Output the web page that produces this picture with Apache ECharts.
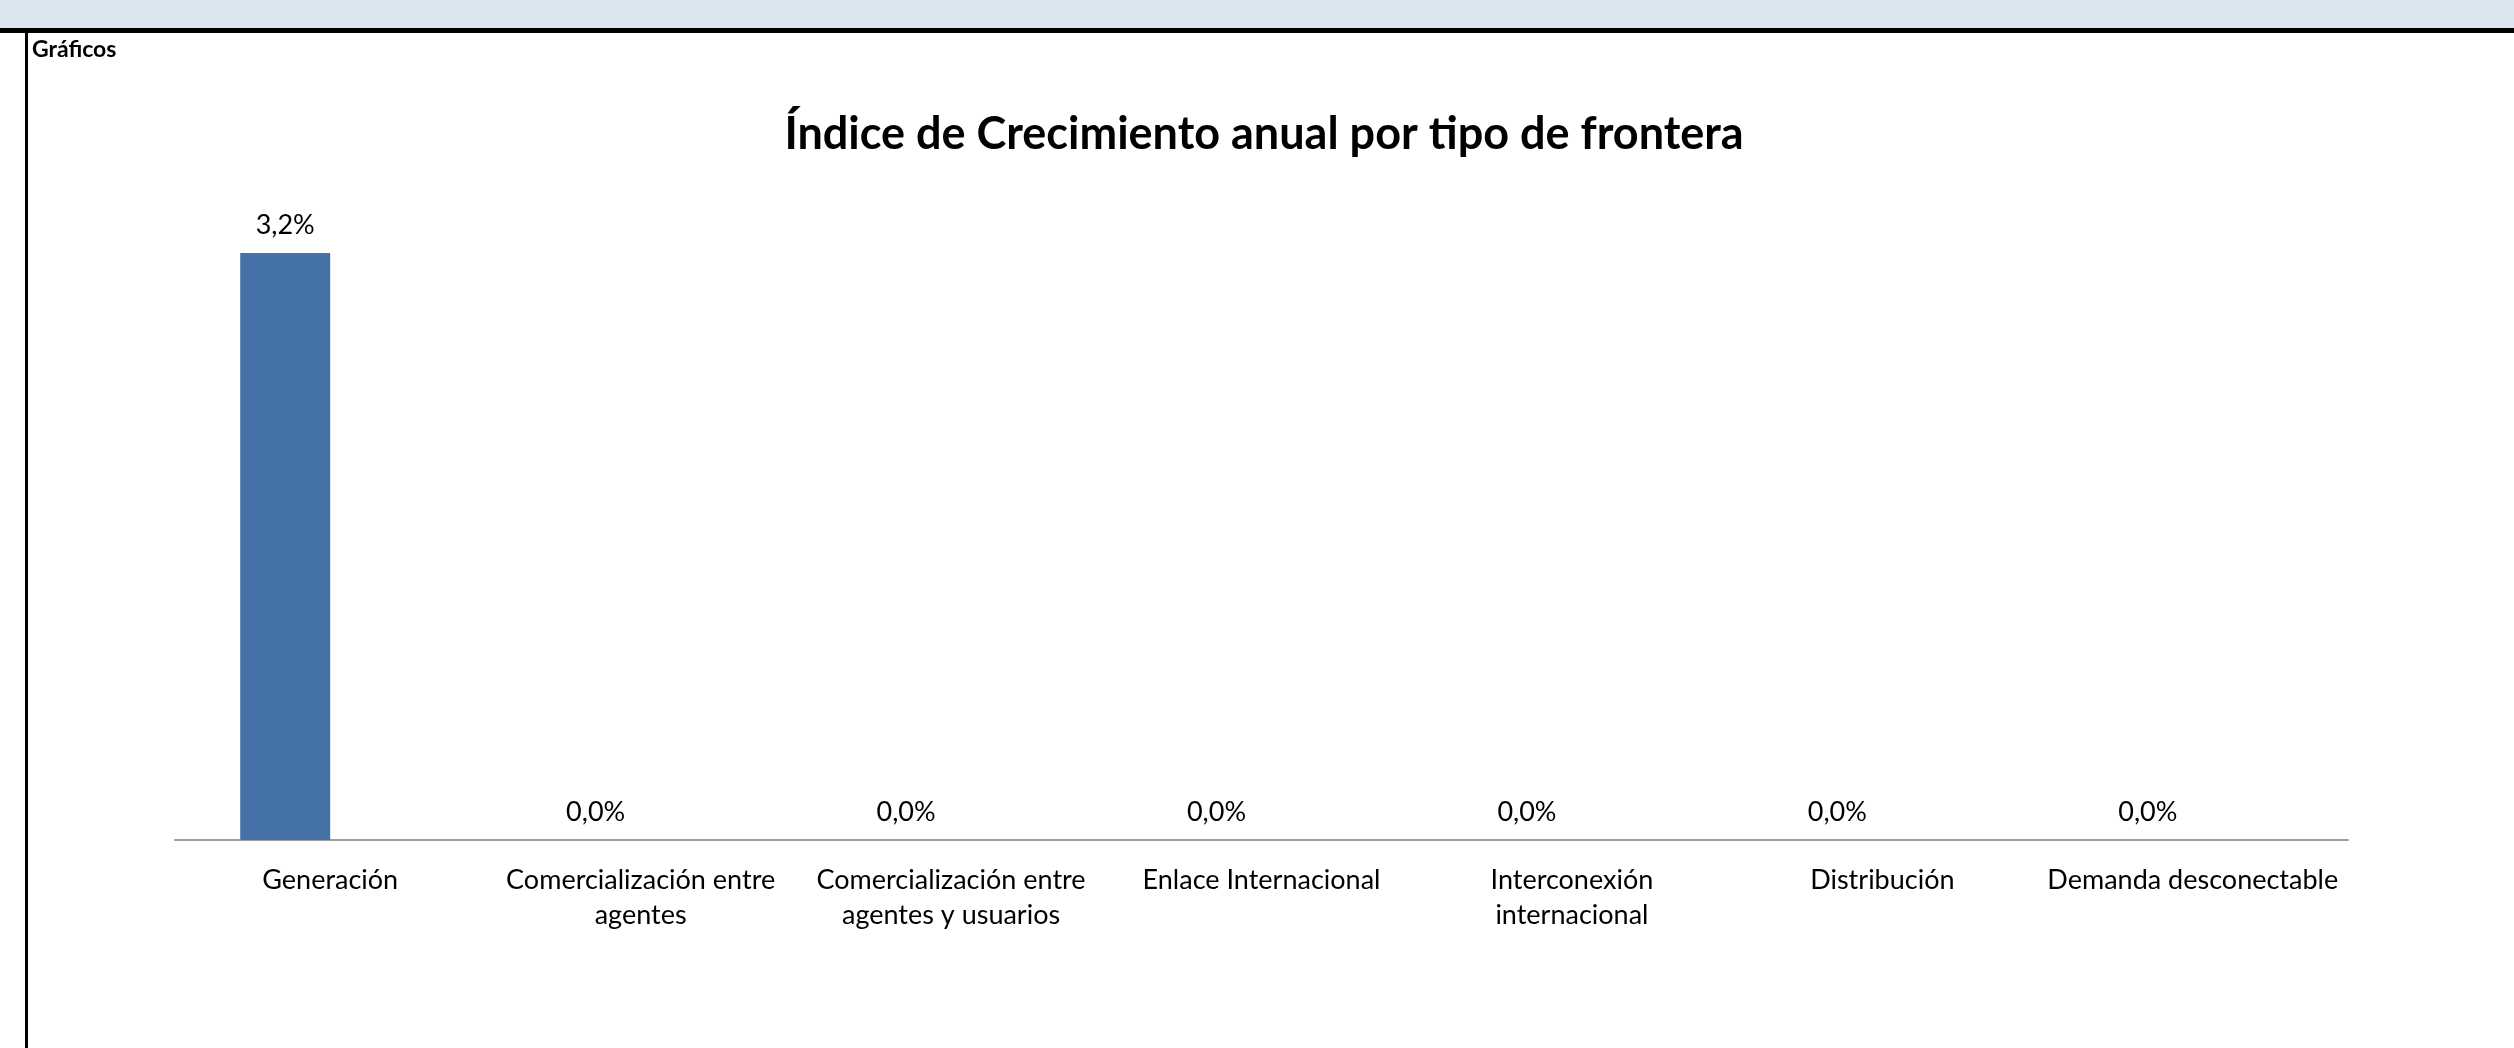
<!DOCTYPE html>
<html>
<head>
<meta charset="utf-8">
<script src="https://cdn.jsdelivr.net/npm/echarts@6/dist/echarts.min.js"></script>
<style>
  html, body { margin: 0; padding: 0; background: #ffffff; }
  #chart { width: 2514px; height: 1048px; }
</style>
</head>
<body>
<div id="chart"></div>
<script>
// ---- Data ----
const chartTitle = 'Índice de Crecimiento anual por tipo de frontera';
const sheetLabel = 'Gráficos';
const categories = [
  'Generación',
  'Comercialización entre agentes',
  'Comercialización entre agentes y usuarios',
  'Enlace Internacional',
  'Interconexión internacional',
  'Distribución',
  'Demanda desconectable'
];
const growthValues = [3.2, 0.0, 0.0, 0.0, 0.0, 0.0, 0.0];   // percent
const emptySeriesValues = [null, null, null, null, null, null, null]; // second (empty) series in the cluster

// ---- Helpers ----
function wrapLabel(text, maxChars) {
  const words = text.split(' ');
  const lines = [];
  let cur = '';
  words.forEach(w => {
    const cand = cur ? cur + ' ' + w : w;
    if (cand.length > maxChars && cur) { lines.push(cur); cur = w; }
    else cur = cand;
  });
  if (cur) lines.push(cur);
  return lines.join('\n');
}
function pct(v) { return v.toFixed(1).replace('.', ',') + '%'; }

const FONT = 'Lato, "Noto Sans", sans-serif';
const chart = echarts.init(document.getElementById('chart'), null, { renderer: 'canvas' });

chart.setOption({
  backgroundColor: '#ffffff',
  animation: false,
  title: {
    text: chartTitle,
    left: 1259,
    textAlign: 'center',
    top: 107,
    textStyle: { fontFamily: FONT, fontWeight: 'bold', fontSize: 45, color: '#000000' }
  },
  graphic: [
    { type: 'rect', shape: { x: 0, y: 0, width: 2514, height: 28 }, style: { fill: '#DCE6F1' }, z: 100 },
    { type: 'rect', shape: { x: 0, y: 28, width: 2514, height: 5 }, style: { fill: '#000000' }, z: 100 },
    { type: 'rect', shape: { x: 25, y: 33, width: 3, height: 1015 }, style: { fill: '#000000' }, z: 100 },
    { type: 'text', left: 32, top: 38, style: { text: sheetLabel, fontFamily: FONT, fontWeight: 'bold', fontSize: 23, fill: '#000000' }, z: 100 }
  ],
  grid: { left: 175, right: 166, top: 198, bottom: 208, containLabel: false, outerBoundsMode: 'none' },
  xAxis: {
    type: 'category',
    data: categories,
    axisLine: { show: true, lineStyle: { color: '#9E9E9E', width: 2 } },
    axisTick: { show: false },
    axisLabel: {
      interval: 0,
      margin: 23,
      fontFamily: FONT,
      fontSize: 27,
      lineHeight: 35,
      color: '#000000',
      formatter: v => wrapLabel(v, 22)
    },
    splitLine: { show: false }
  },
  yAxis: {
    type: 'value',
    min: 0,
    max: 3.5,
    interval: 0.5,
    show: false,
    splitLine: { show: false }
  },
  series: [
    {
      name: 'Crecimiento',
      type: 'bar',
      data: growthValues,
      barWidth: 90,
      barGap: '0%',
      itemStyle: { color: '#4673A7' },
      label: {
        show: true,
        position: 'top',
        distance: 14,
        fontFamily: FONT,
        fontSize: 27,
        color: '#000000',
        formatter: p => pct(p.value)
      }
    },
    {
      name: 'Serie 2',
      type: 'bar',
      data: emptySeriesValues,
      barWidth: 90,
      barGap: '0%',
      itemStyle: { color: '#C0504D' }
    }
  ]
});
</script>
</body>
</html>
